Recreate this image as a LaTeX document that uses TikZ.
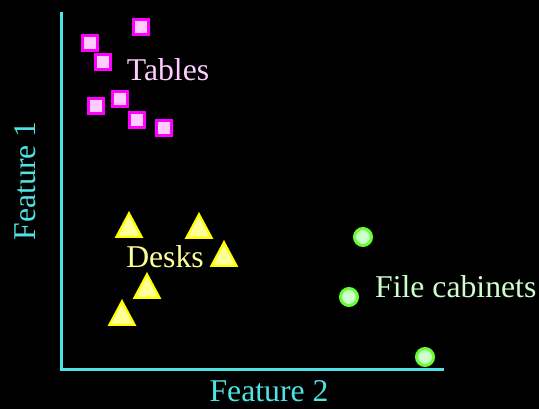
\documentclass[tikz,border=0pt]{standalone}
\usepackage{fontspec}
\setmainfont{Liberation Serif}
\usetikzlibrary{shapes.geometric}
\definecolor{axiscol}{HTML}{4FE3E3}
\definecolor{tabedge}{HTML}{FF00FF}
\definecolor{tabfill}{HTML}{FFCCFF}
\definecolor{deskedge}{HTML}{FFFF00}
\definecolor{deskfill}{HTML}{FFFF99}
\definecolor{cabedge}{HTML}{66FF33}
\definecolor{cabfill}{HTML}{CCFFCC}
\tikzset{
  tablemark/.style={rectangle, draw=tabedge, fill=tabfill, line width=3pt,
    minimum size=15pt, inner sep=0pt},
  deskmark/.style={regular polygon, regular polygon sides=3, draw=deskedge,
    fill=deskfill, line width=2.2pt, minimum size=29pt, inner sep=0pt,
    yscale=1.08},
  cabmark/.style={circle, draw=cabedge, fill=cabfill, line width=3pt,
    minimum size=17pt, inner sep=0pt},
  lbl/.style={font=\fontsize{31.7}{34}\selectfont, inner sep=0pt}
}
\begin{document}
\begin{tikzpicture}[x=1pt, y=-1pt]
  \fill[black] (0,0) rectangle (539,409);
  \useasboundingbox (0,0) rectangle (539,409);

  % axes
  \coordinate (top) at (61,12);
  \coordinate (origin) at (61,369);
  \coordinate (right) at (444,369);
  \draw[axiscol, line width=3pt] (top) -- (origin) -- (right);

  % axis labels
  \node[lbl, text=axiscol, rotate=90] (f1) at (25,181) {Feature 1};
  \node[lbl, text=axiscol] (f2) at (269,391) {Feature 2};

  % tables
  \node[tablemark] (t1) at (141,27) {};
  \node[tablemark] (t2) at (90,43) {};
  \node[tablemark] (t3) at (103,62) {};
  \node[tablemark] (t4) at (96,106) {};
  \node[tablemark] (t5) at (120,99) {};
  \node[tablemark] (t6) at (137,120) {};
  \node[tablemark] (t7) at (164,128) {};
  \node[lbl, text=tabfill] (tl) at (168,70) {Tables};

  % desks
  \node[deskmark] (d1) at (129,229) {};
  \node[deskmark] (d2) at (199,230) {};
  \node[deskmark] (d3) at (224,258) {};
  \node[deskmark] (d4) at (147,290) {};
  \node[deskmark] (d5) at (122,317) {};
  \node[lbl, text=deskfill] (dl) at (165,257) {Desks};

  % file cabinets
  \node[cabmark] (c1) at (363,237) {};
  \node[cabmark] (c2) at (349,297) {};
  \node[cabmark] (c3) at (425,357) {};
  \node[lbl, text=cabfill, anchor=west] (cl) at (375,287) {File cabinets};
\end{tikzpicture}
\end{document}
